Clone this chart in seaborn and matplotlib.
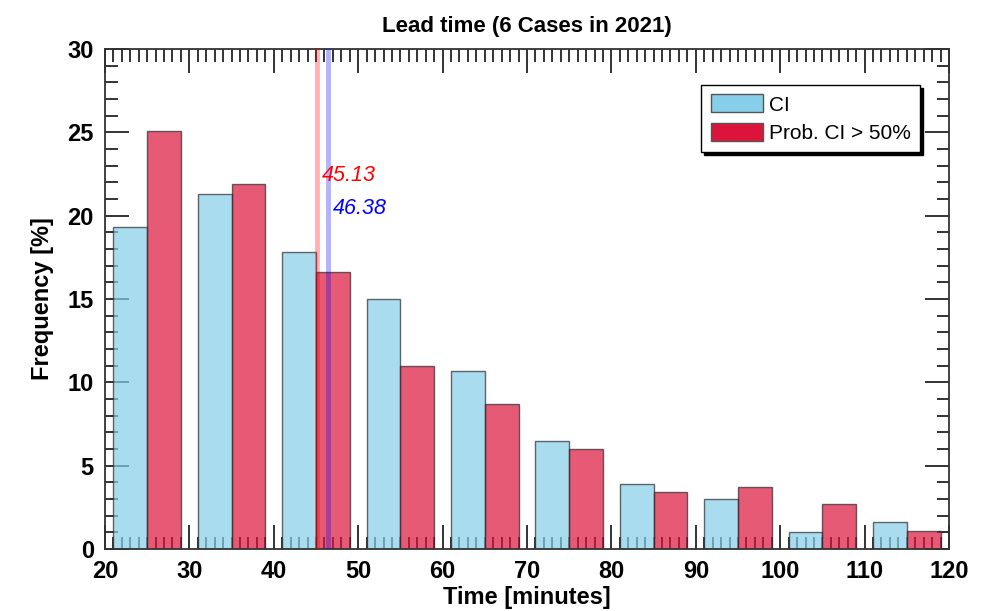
import numpy as np
import pandas as pd
import matplotlib
matplotlib.use("Agg")
import matplotlib.pyplot as plt
import seaborn as sns
from matplotlib.patches import Patch
from matplotlib.ticker import MultipleLocator

sns.set_style("ticks", {"text.color": "black", "axes.labelcolor": "black",
                        "xtick.color": "black", "ytick.color": "black"})
plt.rcParams['font.family'] = ['Liberation Sans', 'DejaVu Sans']

# bin centres (minutes) and frequencies (%)
ci_centers = [23, 33, 43, 53, 63, 73, 83, 93, 103, 113]
ci_freq = [19.3, 21.3, 17.8, 15.0, 10.7, 6.5, 3.9, 3.0, 1.0, 1.6]
prob_centers = [27, 37, 47, 57, 67, 77, 87, 97, 107, 117]
prob_freq = [25.1, 21.9, 16.6, 11.0, 8.7, 6.0, 3.4, 3.7, 2.7, 1.1]
series_names = ["CI", "Prob. CI > 50%"]
mean_prob = 45.13
mean_ci = 46.38

df = pd.DataFrame({
    "time": ci_centers + prob_centers,
    "freq": ci_freq + prob_freq,
    "series": [series_names[0]] * len(ci_centers) + [series_names[1]] * len(prob_centers),
})

ci_col = "#87CEEB"
prob_col = "#DC143C"

fig = plt.figure(figsize=(9.96, 6.11), dpi=100)
ax = fig.add_axes([0.1054, 0.1015, 0.8474, 0.8183])

sns.barplot(data=df, x="time", y="freq", hue="series", native_scale=True,
            dodge=False, width=1.0, errorbar=None, alpha=0.7, saturation=1,
            palette={series_names[0]: ci_col, series_names[1]: prob_col},
            edgecolor="#2a2a2a", linewidth=1.0, legend=False, ax=ax)

ax.axvline(mean_prob, color="red", alpha=0.3, lw=3.5, zorder=3)
ax.axvline(mean_ci, color="blue", alpha=0.3, lw=3.5, zorder=3)
ax.text(mean_prob + 0.55, 22.4, f"{mean_prob:.2f}", color="red", style="italic",
        fontsize=15.5, va="center", ha="left")
ax.text(mean_ci + 0.6, 20.4, f"{mean_ci:.2f}", color="blue", style="italic",
        fontsize=15.5, va="center", ha="left")

ax.set_xlim(20, 120)
ax.set_ylim(0, 30)
ax.xaxis.set_major_locator(MultipleLocator(10))
ax.xaxis.set_minor_locator(MultipleLocator(1))
ax.yaxis.set_major_locator(MultipleLocator(5))
ax.yaxis.set_minor_locator(MultipleLocator(1))
ax.tick_params(which="both", direction="in", top=True, right=True,
               color="#111111", labelcolor="black", width=1.2)
ax.tick_params(which="major", length=17, labelsize=17, pad=8)
ax.tick_params(which="minor", length=9)
for lab in ax.get_xticklabels() + ax.get_yticklabels():
    lab.set_fontweight("bold")
for sp in ax.spines.values():
    sp.set_color("#333333")
    sp.set_linewidth(1.3)

ax.set_xlabel("Time [minutes]", fontsize=17, fontweight="bold", labelpad=2, color="black")
ax.set_ylabel("Frequency [%]", fontsize=17, fontweight="bold", labelpad=10, color="black")
ax.set_title("Lead time (6 Cases in 2021)", fontsize=16, fontweight="bold", pad=12, color="black")

handles = [Patch(facecolor=ci_col, edgecolor="#555555", label=series_names[0]),
           Patch(facecolor=prob_col, edgecolor="#555555", label=series_names[1])]
leg = ax.legend(handles=handles, loc="upper right", bbox_to_anchor=(0.966, 0.928),
                fontsize=15, frameon=True, fancybox=False, shadow={"color": "black", "alpha": 1},
                handlelength=2.5, handleheight=0.95, handletextpad=0.3,
                borderpad=0.45, labelspacing=0.4, borderaxespad=0)
leg.get_frame().set_edgecolor("black")
leg.get_frame().set_linewidth(1.0)
for t in leg.get_texts():
    t.set_color("black")

fig.savefig("out.png", dpi=100)
